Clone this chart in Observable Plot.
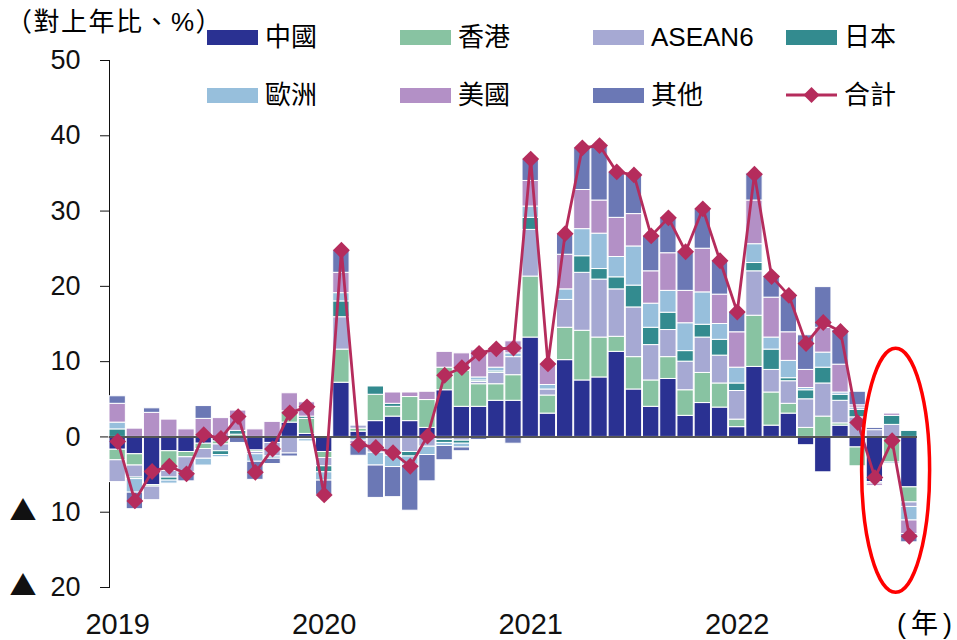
<!DOCTYPE html>
<html><head><meta charset="utf-8">
<script src="https://cdn.jsdelivr.net/npm/d3@7"></script>
<script src="https://cdn.jsdelivr.net/npm/@observablehq/plot@0.6"></script>
<style>
body{margin:0;background:#fff;}
#wrap{position:relative;width:957px;height:640px;font-family:'Liberation Sans','Noto Sans CJK TC',sans-serif;color:#000;overflow:hidden;}
.row{position:absolute;display:flex;align-items:center;height:40px;white-space:nowrap;line-height:1;}
.sw{display:inline-block;width:51px;height:15px;margin-right:7px;}
</style></head><body><div id="wrap"></div>
<script>
// ---- categories ----
const years = [2019, 2020, 2021, 2022];
const lastMonth = 11; // data runs to Nov 2022
const months = [];
for (const yr of years) for (let m = 1; m <= 12; m++) {
  if (yr === 2022 && m > lastMonth) break;
  months.push(`${yr}-${String(m).padStart(2, "0")}`);
}
const seriesNames = ["中國", "香港", "ASEAN6", "日本", "歐洲", "美國", "其他"];
const seriesColors = ["#2a3192", "#88c3a2", "#a6a9d3", "#338b8f", "#97bfdc", "#b390c6", "#6b78b5"];
const totalName = "合計";
const totalColor = "#b52c5c";
const yearTicks = ["2019-01", "2020-01", "2021-01", "2022-01"];
const yTicks = [-20, -10, 0, 10, 20, 30, 40, 50];

// ---- series values (contribution, % yoy) ----
const china  = [-1.7,-2.3,-6.4,-1.9,-2.0,-0.9,-0.6,0,-1.8,-0.8,1.9,0.4,-2.0,7.2,0.7,2.1,2.7,2.1,1.2,6.2,4.0,4.0,4.8,4.8,13.2,3.1,10.2,7.5,7.9,11.3,6.3,4.0,7.7,2.8,4.5,3.9,1.3,9.3,1.5,3.1,-1.1,-4.7,1.5,-1.4,-6.0,0,-6.7];
const hk     = [-1.4,-1.5,-0.2,-2.6,-0.7,-0.7,-0.4,0.3,-0.2,0,1.3,2.0,-0.8,4.4,0.4,3.5,1.3,3.2,3.7,3.0,4.8,3.0,2.2,3.4,8.1,2.4,4.3,6.6,5.3,2.0,4.3,3.5,2.9,3.4,4.0,3.2,1.0,6.8,4.4,1.3,1.2,2.7,0.3,-2.5,0,-3.4,-2.0];
const asean  = [-2.9,-1.6,-1.8,-0.9,-2.0,-1.3,-0.9,0,-0.3,-1.8,-2.2,-0.3,-1.1,4.3,0.4,-2.1,-2.5,-2.0,-1.3,-0.4,-0.5,0.3,1.5,2.4,6.2,0.8,3.7,7.7,7.7,6.3,6.6,4.7,3.6,3.8,4.7,3.7,3.8,5.9,3.0,3.0,3.8,4.4,3.0,2.6,0.9,1.6,-0.6];
const japan  = [1.0,-0.2,0,-0.4,-0.3,0,-0.5,0.5,0,0,0.2,0.3,-0.8,2.1,0,1.1,0.4,-0.6,0,-0.4,-0.4,0.2,0.2,0,1.6,0,0,2.2,1.4,1.6,2.9,2.3,2.3,1.4,1.7,2.1,1.0,1.1,2.7,0.4,1.2,2.1,0.8,1.0,0,1.2,0.8];
const europe = [0.9,-1.8,0,-0.4,0,-0.9,-0.3,0,-1.0,-0.3,0,-0.3,-1.1,1.1,-0.5,-1.7,-1.5,-1.1,-1.1,-0.4,-0.5,0.4,0.5,0.5,1.5,0.6,1.4,3.6,4.7,2.7,5.2,3.2,2.9,3.7,4.3,2.1,2.1,2.5,1.6,2.3,0.3,2.0,0.3,0.3,-0.2,-0.2,-1.8];
const us     = [2.5,1.1,3.2,2.3,1.0,2.4,2.5,2.7,1.0,2.0,2.4,1.9,0,2.7,-0.5,0,1.5,0.6,1.1,2.1,2.3,3.6,2.5,1.6,3.4,2.8,4.6,5.2,4.4,5.2,4.3,4.3,5.0,4.3,5.8,3.9,4.7,5.8,5.3,3.8,2.4,3.3,3.7,0.3,-0.3,0.3,-1.8];
const other  = [1.0,-2.2,0.6,0,-0.9,1.7,0,-0.8,-2.4,-0.7,-0.4,0,-1.9,3.0,-1.5,-4.3,-4.0,-6.1,-3.5,-1.9,-0.5,-0.4,0,-0.9,2.9,0,2.8,5.6,7.3,6.1,5.3,4.7,4.7,5.2,5.3,4.5,2.7,3.6,2.9,5.0,4.6,5.4,4.6,1.8,0.3,0,-1.1];
const total  = [-0.6,-8.5,-4.6,-3.9,-4.9,0.3,-0.2,2.7,-4.7,-1.6,3.2,4.0,-7.7,24.8,-1.0,-1.4,-2.1,-3.9,0.1,8.2,9.2,11.1,11.7,11.8,36.9,9.7,27.0,38.4,38.7,35.2,34.8,26.7,29.1,24.6,30.3,23.4,16.6,34.9,21.3,18.8,12.4,15.2,14.0,1.9,-5.4,-0.5,-13.2];

const seriesValues = [china, hk, asean, japan, europe, us, other];

// ---- tables for Plot ----
const rows = [];
seriesNames.forEach((s, i) => {
  months.forEach((m, j) => {
    const v = seriesValues[i][j];
    if (v !== 0) rows.push({month: m, series: s, value: v});
  });
});
const totRows = months.map((m, j) => ({month: m, total: total[j]}));

const font = "'Liberation Sans','Noto Sans CJK TC',sans-serif";

const chart = Plot.plot({
  width: 957,
  height: 640,
  marginLeft: 109,
  marginRight: 40,
  marginTop: 60,
  marginBottom: 53,
  style: {fontFamily: font, fontSize: "27px", color: "#111", background: "#fff", overflow: "visible"},
  x: {type: "band", domain: months, paddingInner: 0.05, paddingOuter: 0, align: 0.5, round: false,
      ticks: yearTicks, tickFormat: d => d.slice(0, 4), tickSize: 0, tickPadding: 26, label: null},
  y: {domain: [-20, 50], ticks: yTicks, tickFormat: d => d < 0 ? "▲ " + (-d) : String(d),
      tickSize: 9, tickPadding: 20, label: null, line: true},
  color: {domain: seriesNames, range: seriesColors},
  marks: [
    Plot.barY(rows, {x: "month", y: "value", fill: "series", order: seriesNames, stroke: "#fff", strokeWidth: 1}),
    Plot.ruleY([0], {stroke: "#555", strokeWidth: 2}),
    Plot.line(totRows, {x: "month", y: "total", stroke: totalColor, strokeWidth: 2.8}),
    Plot.dot(totRows, {x: "month", y: "total", symbol: "diamond2", r: 7.6, fill: totalColor, stroke: "none"})
  ]
});

const wrap = document.getElementById("wrap");
wrap.appendChild(chart);
chart.style.position = "absolute";
chart.style.left = "0px";
chart.style.top = "0px";

// larger ▲ glyph for negative tick labels; larger year labels
d3.select(chart).selectAll("text").each(function () {
  const t = this.textContent;
  if (t.startsWith("▲")) {
    const num = t.replace("▲", "").trim();
    const sel = d3.select(this);
    sel.text(null);
    sel.append("tspan").attr("font-family", "'Noto Sans CJK TC'").attr("font-size", 27).text("▲");
    sel.append("tspan").attr("dx", 14).text(num);
  } else if (/^20\d\d$/.test(t)) {
    d3.select(this).attr("font-size", 29);
  }
});

// annotation ellipse around the last three months
try {
  const sx = chart.scale("x"), sy = chart.scale("y");
  const bw = sx.bandwidth || 0;
  const cx = (sx.apply("2022-09") + sx.apply("2022-11")) / 2 + bw / 2 + 4;
  const yTop = sy.apply(11.7), yBot = sy.apply(-20.7);
  d3.select(chart).append("ellipse")
    .attr("cx", cx).attr("cy", (yTop + yBot) / 2)
    .attr("rx", 34).attr("ry", (yBot - yTop) / 2)
    .attr("fill", "none").attr("stroke", "#ff0000").attr("stroke-width", 3.5);
} catch (e) { console.error(e); }

// ---- title, legend, x label (HTML overlay) ----
function addRow(left, cy, html, fontSize) {
  const d = document.createElement("div");
  d.className = "row";
  d.style.left = left + "px";
  d.style.top = (cy - 20) + "px";
  d.style.fontSize = fontSize + "px";
  d.innerHTML = html;
  wrap.appendChild(d);
  return d;
}
addRow(6, 22, '<span style="letter-spacing:1.5px">（對上年比、%）</span>', 26);
const colX = [207, 400, 593, 786];
const rowY = [37, 95];
seriesNames.forEach((s, i) => {
  const r = Math.floor(i / 4), c = i % 4;
  addRow(colX[c], rowY[r], `<span class="sw" style="background:${seriesColors[i]}"></span><span>${s}</span>`, 26);
});
addRow(colX[3], rowY[1],
  `<svg width="51" height="20" style="margin-right:7px"><line x1="0" y1="10" x2="51" y2="10" stroke="${totalColor}" stroke-width="2.8"/><path d="M25.5,2 L33.5,10 L25.5,18 L17.5,10 Z" fill="${totalColor}"/></svg><span>${totalName}</span>`, 26);
addRow(897, 624, '<span style="letter-spacing:5px">(年)</span>', 27);
</script>
</body></html>
